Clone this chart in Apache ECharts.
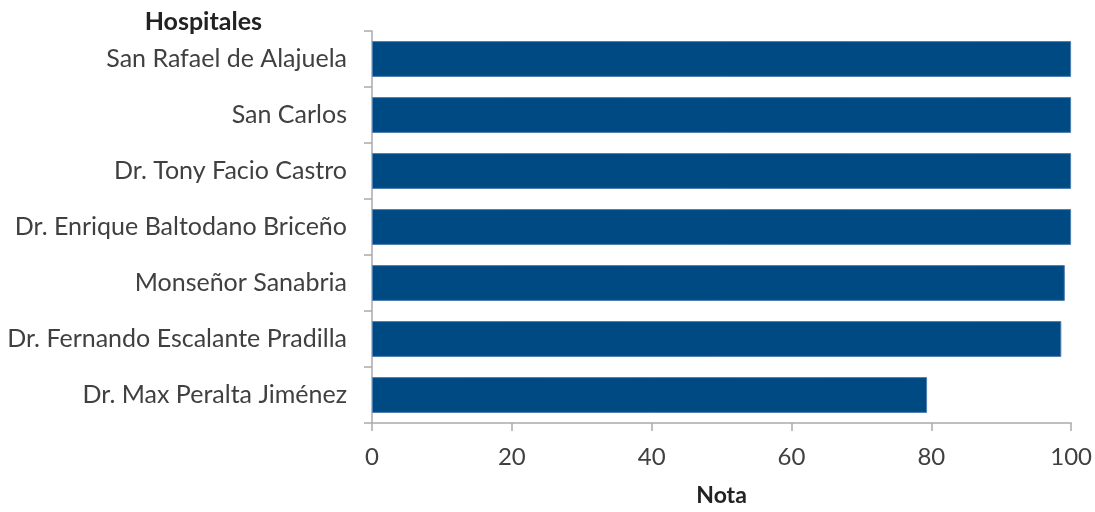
<!DOCTYPE html>
<html><head><meta charset="utf-8">
<script src="https://cdn.jsdelivr.net/npm/echarts@6/dist/echarts.min.js"></script>
<style>html,body{margin:0;padding:0;background:#fff}#c{width:1095px;height:512px}</style>
</head><body><div id="c"></div>
<script>
const categories = ["San Rafael de Alajuela","San Carlos","Dr. Tony Facio Castro","Dr. Enrique Baltodano Briceño","Monseñor Sanabria","Dr. Fernando Escalante Pradilla","Dr. Max Peralta Jiménez"];
const values = [100, 100, 100, 100, 99.1, 98.6, 79.4];
const xTicks = [0, 20, 40, 60, 80, 100];

const chart = echarts.init(document.getElementById('c'));
const font = 'Lato, "Open Sans", sans-serif';
chart.setOption({
  animation: false,
  grid: {left: 372, right: 23, top: 31, bottom: 86},
  xAxis: {
    type: 'value', min: xTicks[0], max: xTicks[xTicks.length-1], interval: 20,
    name: 'Nota', nameLocation: 'middle', nameGap: 61,
    nameTextStyle: {fontFamily: font, fontSize: 23, fontWeight: 'bold', color: '#222'},
    axisLine: {show: true, lineStyle: {color: '#aaa', width: 1.5}},
    axisTick: {show: true, length: 8, lineStyle: {color: '#aaa', width: 1.5}},
    axisLabel: {fontFamily: font, fontSize: 24, color: '#404040', margin: 22},
    splitLine: {show: false}
  },
  yAxis: {
    type: 'category', data: categories, inverse: true,
    name: 'Hospitales', nameLocation: 'start', nameGap: 9,
    nameTextStyle: {fontFamily: font, fontSize: 25, fontWeight: 'bold', color: '#222', align: 'right', verticalAlign: 'middle', padding: [0, 110, 0, 0]},
    axisLine: {show: true, lineStyle: {color: '#aaa', width: 1.5}},
    axisTick: {show: true, length: 8, lineStyle: {color: '#aaa', width: 1.5}},
    axisLabel: {fontFamily: font, fontSize: 25, color: '#404040', margin: 25}
  },
  series: [{
    type: 'bar', data: values, barCategoryGap: '36%',
    itemStyle: {color: '#004a84', borderColor: '#4f7fb0', borderWidth: 1}
  }]
});
</script></body></html>
